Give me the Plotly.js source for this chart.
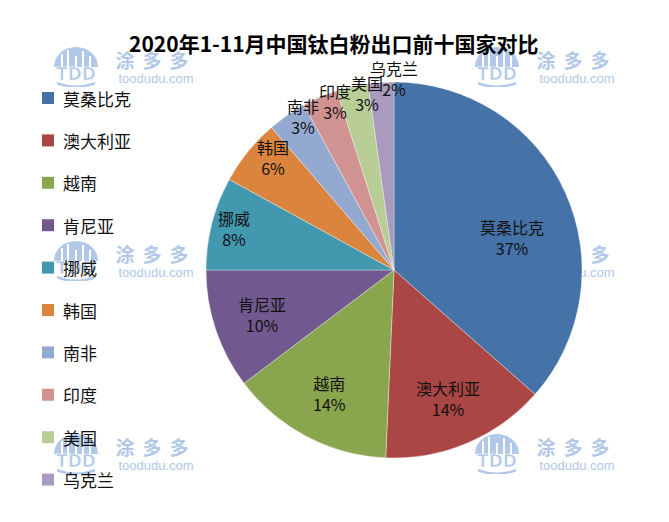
<!DOCTYPE html>
<html>
<head>
<meta charset="utf-8">
<script src="https://cdn.plot.ly/plotly-3.0.1.min.js"></script>
<style>html,body{margin:0;padding:0;background:#fff}#chart{width:669px;height:522px}</style>
</head>
<body>
<div id="chart"></div>
<script>
// ---- data ----
const titleText = '2020年1-11月中国钛白粉出口前十国家对比';
const labels = ['莫桑比克','澳大利亚','越南','肯尼亚','挪威','韩国','南非','印度','美国','乌克兰'];
const values = [36.5, 14.2, 14.0, 10.3, 8.0, 5.7, 3.35, 3.05, 2.7, 2.2];
const colors = ['#4572A7','#AA4643','#89A54E','#71588F','#4198AF','#DB843D','#93A9CF','#D19392','#B9CD96','#A99BBD'];

// ---- layout geometry (pixels) ----
const W = 669, H = 522;
const pieCx = 394, pieCy = 270, pieR = 188;
const FONT = '"Noto Sans CJK SC", "Noto Sans", sans-serif';

const total = values.reduce((a, b) => a + b, 0);

const trace = {
  type: 'pie',
  labels: labels,
  values: values,
  sort: false,
  direction: 'clockwise',
  rotation: 0,
  marker: {colors: colors, line: {color: 'rgba(255,255,255,0.6)', width: 0.6}},
  textinfo: 'none',
  hoverinfo: 'label+percent',
  showlegend: false,
  domain: {x: [(pieCx - pieR) / W, (pieCx + pieR) / W], y: [1 - (pieCy + pieR) / H, 1 - (pieCy - pieR) / H]}
};

// slice labels placed from the data (mid-angle of each slice, "best fit" style)
function radialFrac(share) {
  if (share >= 0.3) return 0.65;
  if (share >= 0.09) return 0.74;
  if (share >= 0.05) return 0.88;
  if (share >= 0.025) return 0.95;
  return 1.02;
}
function angleNudge(share) {
  if (share >= 0.3) return 9;
  if (share < 0.07) return 4;
  return 0;
}
const annotations = [];
let cum = 0;
values.forEach((v, i) => {
  const share = v / total;
  const theta = 2 * Math.PI * (cum + v / 2) / total + angleNudge(share) * Math.PI / 180;
  cum += v;
  const rf = radialFrac(share);
  const px = pieCx + rf * pieR * Math.sin(theta);
  const py = pieCy - rf * pieR * Math.cos(theta);
  annotations.push({
    xref: 'paper', yref: 'paper', x: px / W, y: 1 - py / H,
    xanchor: 'center', yanchor: 'middle', showarrow: false,
    text: labels[i] + '<br>' + Math.round(share * 100) + '%',
    font: {family: FONT, size: 16, color: '#111'},
    align: 'center'
  });
});

// manual legend (Excel style: large spacing)
const shapes = [];
const legTop = 98, legStep = 42.4;
labels.forEach((lab, i) => {
  const yc = legTop + i * legStep;
  shapes.push({type: 'rect', xref: 'paper', yref: 'paper',
    x0: 42 / W, x1: 54 / W, y0: 1 - (yc + 6) / H, y1: 1 - (yc - 6) / H,
    fillcolor: colors[i], line: {width: 0}});
  annotations.push({xref: 'paper', yref: 'paper', x: 61 / W, y: 1 - yc / H,
    xanchor: 'left', yanchor: 'middle', showarrow: false,
    text: lab, font: {family: FONT, size: 17, color: '#111'}});
});

// watermark image (decorative)
function watermarkSVG() {
  const c = '#a9c3e6';
  const svg = `<svg xmlns="http://www.w3.org/2000/svg" width="150" height="42" viewBox="0 0 150 42">
  <path d="M2 22 A22 20 0 0 1 46 22 Z" fill="${c}"/>
  <rect x="9" y="9" width="2" height="13" fill="#fff"/><rect x="15" y="5" width="2" height="17" fill="#fff"/>
  <rect x="23" y="11" width="2" height="11" fill="#fff"/><rect x="30" y="6" width="2" height="16" fill="#fff"/>
  <rect x="37" y="11" width="2" height="11" fill="#fff"/>
  <text x="24" y="35" text-anchor="middle" font-family="DejaVu Sans, sans-serif" font-weight="bold" font-size="17" fill="${c}" stroke="#fff" stroke-width="0.7">TDD</text>
  <path d="M5 37 Q24 44 43 37 L43 39.5 Q24 46.5 5 39.5 Z" fill="${c}"/>
  <text x="104" y="23" text-anchor="middle" font-family="Noto Sans CJK SC, sans-serif" font-weight="bold" font-size="19" letter-spacing="8" fill="${c}">涂多多</text>
  <text x="104" y="38" text-anchor="middle" font-family="Liberation Sans, Arial, sans-serif" font-size="13" fill="${c}">toodudu.com</text>
</svg>`;
  return 'data:image/svg+xml;charset=utf-8,' + encodeURIComponent(svg);
}
const wm = watermarkSVG();
const wmPos = [[52, 45], [473, 45], [52, 239], [473, 239], [52, 432], [473, 432]];
const images = wmPos.map(p => ({
  source: wm, xref: 'paper', yref: 'paper',
  x: p[0] / W, y: 1 - p[1] / H, sizex: 150 / W, sizey: 42 / H,
  xanchor: 'left', yanchor: 'top', sizing: 'stretch', layer: 'below', opacity: 0.9
}));

const layout = {
  width: W, height: H,
  margin: {l: 0, r: 0, t: 0, b: 0},
  paper_bgcolor: '#ffffff',
  plot_bgcolor: '#ffffff',
  showlegend: false,
  title: {
    text: '<b>' + titleText + '</b>',
    x: 0.499, xanchor: 'center', y: 1 - 45 / H, yanchor: 'middle',
    font: {family: FONT, size: 21, color: '#000'}
  },
  annotations: annotations,
  shapes: shapes,
  images: images
};

Plotly.newPlot('chart', [trace], layout, {displayModeBar: false, staticPlot: true});
</script>
</body>
</html>
